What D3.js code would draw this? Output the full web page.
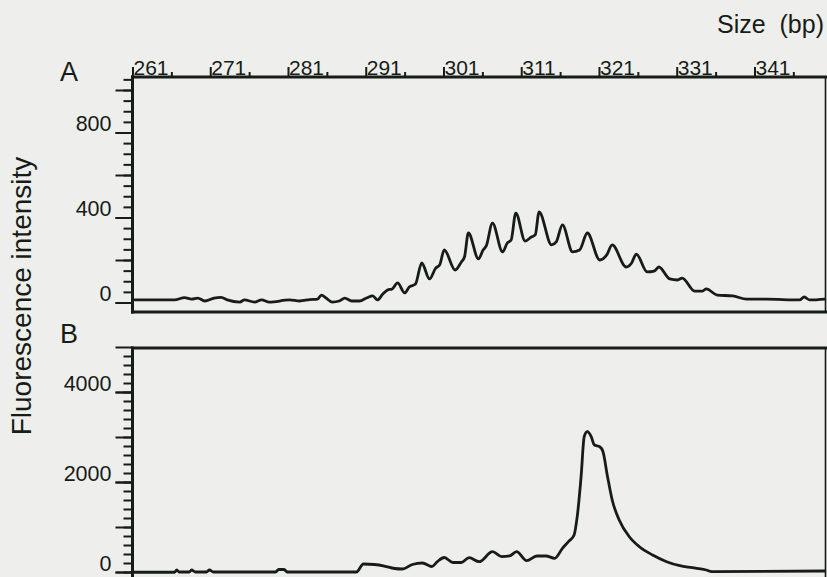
<!DOCTYPE html>
<html>
<head>
<meta charset="utf-8">
<script src="https://cdn.jsdelivr.net/npm/d3@7"></script>
<style>
  body { margin: 0; background: #eeeeec; }
  svg { display: block; }
  text { font-family: "Liberation Sans", Arial, Helvetica, sans-serif; fill: #161c16; }
</style>
</head>
<body>
<svg id="chart" width="827" height="577"></svg>
<script>
// fragment sizes (bp) and fluorescence, trace A (repeat ladder)
var sizeA = [261.0, 266.4, 267.7, 268.6, 269.4, 270.3, 271.5, 272.4, 273.2, 274.8, 275.4, 276.7, 277.6, 278.6,
    281.2, 282.5, 283.8, 284.8, 285.3, 285.9, 286.7, 287.6, 288.3, 289.2, 290.2, 291.1, 291.9, 292.5, 293.2,
    293.8, 294.4, 295.1, 296.0, 296.6, 297.4, 298.2, 299.2, 300.0, 300.5, 301.1, 302.5, 303.3, 303.7, 304.2,
    305.5, 306.1, 306.5, 307.3, 308.6, 309.2, 309.7, 310.3, 311.5, 312.3, 312.8, 313.3, 314.9, 315.5, 316.3,
    317.6, 318.5, 319.5, 321.1, 322.0, 322.7, 324.5, 325.2, 325.8, 327.2, 328.1, 328.7, 330.1, 331.1, 331.7,
    333.3, 334.3, 334.8, 336.2, 338.2, 340.0, 342.5, 346.8, 347.4, 348.1, 350.1];
var intensityA = [12, 12, 23, 16, 21, 7, 21, 24, 12, 2, 12, 2, 12, 2,
    12, 7, 14, 16, 35, 21, 2, 7, 21, 7, 7, 21, 31, 12, 40,
    59, 64, 92, 45, 73, 87, 186, 111, 162, 176, 247, 153, 191, 214, 327,
    205, 247, 266, 374, 238, 280, 294, 421, 289, 308, 318, 426, 271, 285, 365,
    238, 247, 327, 200, 224, 271, 167, 186, 228, 144, 148, 167, 111, 106, 115,
    54, 54, 64, 35, 31, 16, 16, 12, 26, 12, 16];

// trace B (single dominant product)
var sizeB = [261.0, 266.4, 266.7, 267.0, 268.3, 268.6, 269.1, 270.5, 270.9, 271.4, 279.4, 279.8, 280.5, 280.9,
    289.8, 290.7, 292.1, 293.4, 294.7, 295.7, 297.0, 298.3, 299.5, 300.2, 301.1, 302.2, 303.3, 304.3, 305.6,
    307.3, 308.5, 309.5, 310.4, 311.7, 313.0, 314.2, 315.3, 316.3, 317.2, 317.8, 318.2, 318.7, 319.1, 319.5,
    320.0, 320.4, 321.1, 321.5, 322.1, 322.7, 323.6, 324.9, 326.2, 327.9, 329.7, 331.4, 333.0, 334.8, 335.5, 350.1];
var intensityB = [-5, -5, 44, 0, 0, 44, 0, 0, 44, 0, 0, 56, 56, 0,
    0, 178, 167, 133, 78, 67, 167, 200, 122, 229, 322, 211, 211, 318, 229,
    451, 340, 356, 451, 251, 356, 356, 304, 527, 696, 822, 1229, 2118, 3007, 3118,
    3007, 2822, 2784, 2684, 2118, 1600, 1156, 784, 562, 378, 229, 140, 96, 44, 7, 22];

var sizeTicks = [261, 271, 281, 291, 301, 311, 321, 331, 341];
var sizeMinorTicks = [266, 276, 286, 296, 306, 316, 326, 336, 346];
var ticksA = [0, 400, 800];
var ticksB = [0, 2000, 4000];

var ink = '#161c16';
var svg = d3.select('#chart');

svg.append('rect').attr('width', 827).attr('height', 577).attr('fill', '#eeeeec');

var x = d3.scaleLinear().domain([261, 350.2]).range([132.5, 826]);

var drawPanel = function (p) {
    var y = d3.scaleLinear().domain([0, p.topValue]).range([p.zeroY, p.topY]);
    var g = svg.append('g');

    g.append('clipPath').attr('id', 'clip' + p.name)
        .append('rect')
        .attr('x', 133).attr('y', p.top)
        .attr('width', 826 - 133).attr('height', p.bottom - p.top);

    var line = d3.line()
        .curve(d3.curveMonotoneX)
        .x(function (d) { return x(d[0]); })
        .y(function (d) { return y(d[1]); });

    g.append('path')
        .datum(d3.zip(p.sizes, p.values))
        .attr('clip-path', 'url(#clip' + p.name + ')')
        .attr('fill', 'none')
        .attr('stroke', ink)
        .attr('stroke-width', 2.8)
        .attr('stroke-linejoin', 'round')
        .attr('d', line);

    // minor ticks
    g.append('g')
        .attr('transform', 'translate(132.5,0)')
        .call(d3.axisLeft(y).tickValues(p.minor).tickSize(9).tickFormat(''))
        .call(function (a) { a.select('.domain').remove(); })
        .selectAll('line').attr('stroke', ink).attr('stroke-width', 2);

    // long ticks
    g.append('g')
        .attr('transform', 'translate(132.5,0)')
        .call(d3.axisLeft(y).tickValues(p.major).tickSize(17).tickFormat(''))
        .call(function (a) { a.select('.domain').remove(); })
        .selectAll('line').attr('stroke', ink).attr('stroke-width', 2);

    // labelled ticks
    var lab = g.append('g')
        .attr('transform', 'translate(132.5,0)')
        .call(d3.axisLeft(y).tickValues(p.labels).tickSize(17).tickPadding(4).tickFormat(d3.format('d')))
        .call(function (a) { a.select('.domain').remove(); });
    lab.selectAll('line').attr('stroke', ink).attr('stroke-width', 2);
    lab.selectAll('text')
        .attr('dy', '-0.08em')
        .style('font-size', '21.5px')
        .style('fill', ink);

    // frame
    g.append('line').attr('x1', 132.5).attr('x2', 132.5).attr('y1', p.top - 1.5).attr('y2', p.bottom + 1.5)
        .attr('stroke', ink).attr('stroke-width', 3);
    g.append('line').attr('x1', 131).attr('x2', 827).attr('y1', p.top).attr('y2', p.top)
        .attr('stroke', ink).attr('stroke-width', 3);
    g.append('line').attr('x1', 131).attr('x2', 827).attr('y1', p.bottom).attr('y2', p.bottom)
        .attr('stroke', ink).attr('stroke-width', 3);
    g.append('line').attr('x1', 825.5).attr('x2', 825.5).attr('y1', p.top).attr('y2', p.bottom)
        .attr('stroke', ink).attr('stroke-width', 1.6);

    g.append('text')
        .attr('x', 60).attr('y', p.letterY)
        .style('font-size', '27px')
        .text(p.name);
};

drawPanel({
    name: 'A', sizes: sizeA, values: intensityA,
    topValue: 800, zeroY: 302.5, topY: 132.5,
    top: 77, bottom: 312, letterY: 81,
    labels: ticksA, major: d3.range(0, 1001, 200), minor: d3.range(0, 1051, 50)
});

drawPanel({
    name: 'B', sizes: sizeB, values: intensityB,
    topValue: 4000, zeroY: 572, topY: 392,
    top: 348, bottom: 583, letterY: 343,
    labels: ticksB, major: d3.range(0, 5001, 1000), minor: d3.range(0, 4801, 200)
});

// size axis across the top of panel A
var minorAxis = svg.append('g')
    .attr('transform', 'translate(0,77)')
    .call(d3.axisTop(x).tickValues(sizeMinorTicks).tickSize(5).tickFormat(''))
    .call(function (a) { a.select('.domain').remove(); });
minorAxis.selectAll('line').attr('stroke', ink).attr('stroke-width', 2);

var sizeAxis = svg.append('g')
    .attr('transform', 'translate(0,77)')
    .call(d3.axisTop(x).tickValues(sizeTicks).tickSize(10).tickFormat(d3.format('d')))
    .call(function (a) { a.select('.domain').remove(); });
sizeAxis.selectAll('line').attr('stroke', ink).attr('stroke-width', 2);
sizeAxis.selectAll('text')
    .attr('text-anchor', 'start')
    .attr('x', 0.5)
    .attr('y', -2.5)
    .attr('dy', 0)
    .style('font-size', '21px')
    .style('fill', ink);

svg.append('text')
    .attr('x', 824).attr('y', 33)
    .attr('text-anchor', 'end')
    .style('font-size', '25px')
    .style('white-space', 'pre')
    .text('Size  (bp)');

svg.append('text')
    .attr('transform', 'translate(31,296) rotate(-90)')
    .attr('text-anchor', 'middle')
    .style('font-size', '28px')
    .text('Fluorescence intensity');
</script>
</body>
</html>
